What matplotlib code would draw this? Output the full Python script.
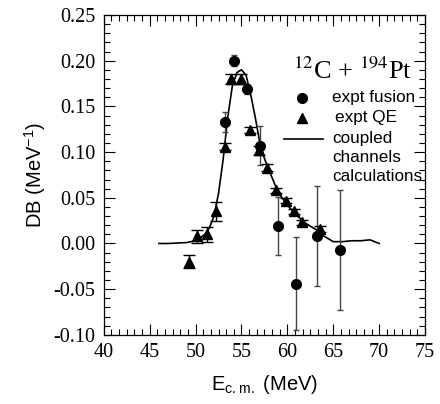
import numpy as np
import matplotlib
matplotlib.use('Agg')
import matplotlib.pyplot as plt
from matplotlib.ticker import MultipleLocator, FormatStrFormatter

# expt fusion
fus_x = [54.2, 55.6, 53.2, 57.0, 59.0, 60.9, 63.2, 65.7]
fus_y = [0.200, 0.169, 0.133, 0.107, 0.019, -0.044, 0.008, -0.007]
fus_err = [0.006, 0.006, 0.011, 0.021, 0.032, 0.051, 0.055, 0.066]

# expt QE
qe_x = [49.3, 50.2, 51.2, 52.2, 53.2, 53.9, 55.0, 55.9, 56.9, 57.8, 58.8, 59.8, 60.7, 61.6, 63.5]
qe_y = [-0.020, 0.008, 0.010, 0.035, 0.106, 0.180, 0.180, 0.124, 0.102, 0.083, 0.058, 0.047, 0.035, 0.023, 0.016]
qe_err = [0.007, 0.007, 0.008, 0.010, 0.004, 0.005, 0.005, 0.003, 0.005, 0.004, 0.003, 0.003, 0.003, 0.003, 0.003]

# coupled channels calculations
cc_x = [46, 47, 48, 49, 50, 50.5, 51, 51.5, 52, 52.5, 53, 53.5, 54, 54.5, 55, 55.5, 56, 56.5,
        57, 57.5, 58, 59, 60, 61, 62, 63, 64, 65, 66, 67, 68, 69, 70]
cc_y = [0.0, 0.0, 0.0005, 0.001, 0.003, 0.006, 0.010, 0.017, 0.030, 0.055, 0.092, 0.138, 0.172,
        0.187, 0.190, 0.184, 0.163, 0.138, 0.110, 0.093, 0.080, 0.056, 0.042, 0.031, 0.022, 0.016,
        0.008, 0.002, 0.002, 0.003, 0.003, 0.004, 0.0]

plt.rcParams['font.family'] = ['Liberation Sans', 'DejaVu Sans']
plt.rcParams['mathtext.fontset'] = 'custom'
plt.rcParams['mathtext.rm'] = 'Liberation Sans'

fig = plt.figure(figsize=(4.4, 4.04), dpi=100)
ax = fig.add_axes([0.236, 0.171, 0.730, 0.792])

ax.plot(cc_x, cc_y, 'k-', lw=1.2)
ax.errorbar(fus_x, fus_y, yerr=fus_err, fmt='o', color='k', ms=7, ecolor='#444444',
            elinewidth=1.0, capsize=2.5, capthick=1.0)
ax.errorbar(qe_x, qe_y, yerr=qe_err, fmt='^', color='k', ms=7, ecolor='k',
            elinewidth=1.0, capsize=4, capthick=1.0)

ax.set_xlim(40, 75)
ax.set_ylim(-0.10, 0.25)
ax.xaxis.set_major_locator(MultipleLocator(5))
ax.xaxis.set_minor_locator(MultipleLocator(5 / 6))
ax.yaxis.set_major_locator(MultipleLocator(0.05))
ax.yaxis.set_minor_locator(MultipleLocator(0.01))
ax.yaxis.set_major_formatter(FormatStrFormatter('%.2f'))
ax.tick_params(which='both', direction='in', top=True, right=True, width=0.8)
ax.tick_params(which='major', length=8, labelsize=14.5, pad=6)
ax.tick_params(which='minor', length=4)
for lab in ax.get_xticklabels() + ax.get_yticklabels():
    lab.set_family(['Liberation Serif', 'DejaVu Serif'])
for s in ax.spines.values():
    s.set_linewidth(0.9)

ax.set_xlabel(r'E$_{\mathrm{c.m.}}$ (MeV)', fontsize=14.5, labelpad=8)
ax.set_ylabel(r'DB (MeV$^{\mathrm{-1}}$)', fontsize=14.5, labelpad=4)

ax.text(0.96, 0.80, r'$^{12}$C + $^{194}$Pt', transform=ax.transAxes, ha='right',
        va='baseline', fontsize=19, family=['Liberation Serif', 'DejaVu Serif'],
        math_fontfamily='stix')

# legend drawn by hand, as in the original figure
tr = ax.transAxes
ax.plot([0.617], [0.741], 'ko', ms=7, transform=tr, clip_on=False)
ax.plot([0.617], [0.678], 'k^', ms=7, transform=tr, clip_on=False)
ax.plot([0.561, 0.682], [0.6125, 0.6125], 'k-', lw=1.2, transform=tr, clip_on=False)
ax.text(0.710, 0.741, 'expt fusion', transform=tr, va='center', fontsize=12.3)
ax.text(0.720, 0.678, 'expt QE', transform=tr, va='center', fontsize=12.3)
ax.text(0.710, 0.6125, 'coupled', transform=tr, va='center', fontsize=12.3)
ax.text(0.710, 0.556, 'channels', transform=tr, va='center', fontsize=12.3)
ax.text(0.710, 0.494, 'calculations', transform=tr, va='center', fontsize=12.3)

fig.savefig('out.png', dpi=100)
